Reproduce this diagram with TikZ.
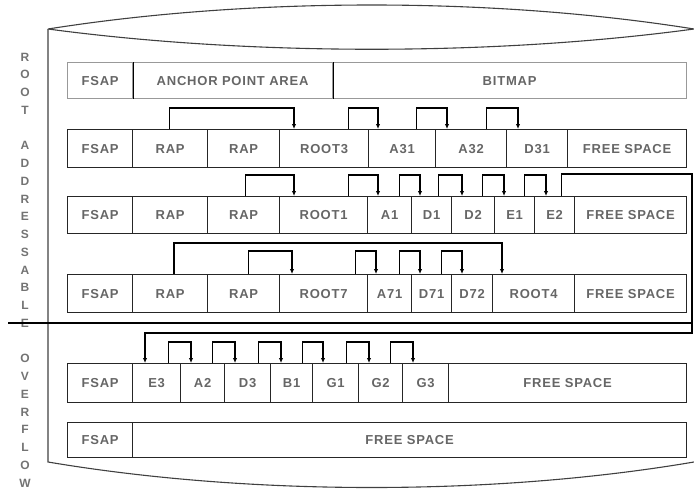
\documentclass[tikz,border=0pt]{standalone}
\usepackage{fontspec}
\setmainfont{Liberation Sans}
\newfontfamily\cellfont[LetterSpace=6]{Liberation Sans}
\usetikzlibrary{arrows.meta}
\tikzset{
  cell/.style={draw=black!85,line width=1.2pt,inner sep=0pt,
    font=\cellfont\fontsize{13}{13}\selectfont\bfseries,text=black!60},
  conn/.style={draw=black,line width=1.4pt,-{Latex[length=5pt,width=4.5pt]}},
  plain/.style={draw=black,line width=1.4pt},
  cyl/.style={draw=black!75,line width=1.1pt},
  side/.style={inner sep=0pt,font=\cellfont\fontsize{12}{12}\selectfont\bfseries,text=black!55}
}
\newcommand\mkcell[6]{\node[cell,anchor=north west,minimum width={#3pt-#2pt},minimum height={#5pt-#4pt}] (#1) at (#2,#4) {#6};}
\begin{document}
\begin{tikzpicture}[x=1pt,y=-1pt]
\useasboundingbox (0,0) rectangle (694,490);
% cylinder outline
\coordinate (cTL) at (48,29);
\coordinate (cTR) at (694,29);
\coordinate (cBL) at (48,462);
\coordinate (cBR) at (694,462);
\draw[cyl] (cTL) .. controls (250,-3) and (494,-3) .. (cTR)
               .. controls (494,56) and (250,56) .. (cTL);
\draw[cyl] (cTL) -- (cBL) .. controls (250,496) and (494,496) .. (cBR);
% side letters
\foreach \i/\c in {0/R,1/O,2/O,3/T,5/A,6/D,7/D,8/R,9/E,10/S,11/S,12/A,13/B,14/L,15/E,
                   17/O,18/V,19/E,20/R,21/F,22/L,23/O,24/W}
  \node[side] (s\i) at (25,57+\i*17.75) {\c};
% separator
\coordinate (sepL) at (8,323);
\coordinate (sepR) at (692,323);
\draw[plain,line width=1.2pt] (sepL) -- (sepR);
% row 1
\begin{scope}[cell/.append style={draw=black!40}]
\mkcell{r1a}{67}{132}{62}{98}{FSAP}
\mkcell{r1b}{132}{332}{62}{98}{ANCHOR POINT AREA}
\mkcell{r1c}{332}{686}{62}{98}{BITMAP}
\end{scope}
\draw[plain,line width=1.2pt] (r1a.north east) -- (r1a.south east);
\draw[plain,line width=1.2pt] (r1b.north east) -- (r1b.south east);
% row 2
\mkcell{r2a}{67}{132}{129}{167}{FSAP}
\mkcell{r2b}{132}{207}{129}{167}{RAP}
\mkcell{r2c}{207}{279}{129}{167}{RAP}
\mkcell{r2d}{279}{368}{129}{167}{ROOT3}
\mkcell{r2e}{368}{435}{129}{167}{A31}
\mkcell{r2f}{435}{506}{129}{167}{A32}
\mkcell{r2g}{506}{567}{129}{167}{D31}
\mkcell{r2h}{567}{686}{129}{167}{FREE SPACE}
% row 3
\mkcell{r3a}{67}{132}{196}{233}{FSAP}
\mkcell{r3b}{132}{207}{196}{233}{RAP}
\mkcell{r3c}{207}{279}{196}{233}{RAP}
\mkcell{r3d}{279}{367}{196}{233}{ROOT1}
\mkcell{r3e}{367}{411}{196}{233}{A1}
\mkcell{r3f}{411}{451}{196}{233}{D1}
\mkcell{r3g}{451}{494}{196}{233}{D2}
\mkcell{r3h}{494}{534}{196}{233}{E1}
\mkcell{r3i}{534}{574}{196}{233}{E2}
\mkcell{r3j}{574}{686}{196}{233}{FREE SPACE}
% row 4
\mkcell{r4a}{67}{132}{274}{312}{FSAP}
\mkcell{r4b}{132}{207}{274}{312}{RAP}
\mkcell{r4c}{207}{279}{274}{312}{RAP}
\mkcell{r4d}{279}{367}{274}{312}{ROOT7}
\mkcell{r4e}{367}{411}{274}{312}{A71}
\mkcell{r4f}{411}{451}{274}{312}{D71}
\mkcell{r4g}{451}{492}{274}{312}{D72}
\mkcell{r4h}{492}{574}{274}{312}{ROOT4}
\mkcell{r4i}{574}{686}{274}{312}{FREE SPACE}
% row 5
\mkcell{r5a}{67}{132}{363}{402}{FSAP}
\mkcell{r5b}{132}{180}{363}{402}{E3}
\mkcell{r5c}{180}{224}{363}{402}{A2}
\mkcell{r5d}{224}{270}{363}{402}{D3}
\mkcell{r5e}{270}{312}{363}{402}{B1}
\mkcell{r5f}{312}{358}{363}{402}{G1}
\mkcell{r5g}{358}{402}{363}{402}{G2}
\mkcell{r5h}{402}{448}{363}{402}{G3}
\mkcell{r5i}{448}{686}{363}{402}{FREE SPACE}
% row 6
\mkcell{r6a}{67}{132}{422}{457}{FSAP}
\mkcell{r6b}{132}{686}{422}{457}{FREE SPACE}
% connectors row 2
\draw[conn] ([xshift=-0.5pt]r2b.north) -- ++(0,-21) -| ([xshift=15pt]r2d.north west);
\draw[conn] ([xshift=-21pt]r2d.north east) -- ++(0,-21) -| ([xshift=10pt]r2e.north west);
\draw[conn] ([xshift=-20pt]r2e.north east) -- ++(0,-21) -| ([xshift=12pt]r2f.north west);
\draw[conn] ([xshift=-21pt]r2f.north east) -- ++(0,-21) -| ([xshift=12pt]r2g.north west);
% connectors row 3
\draw[conn] ([xshift=2pt]r3c.north) -- ++(0,-21) -| ([xshift=15pt]r3d.north west);
\draw[conn] ([xshift=-20pt]r3d.north east) -- ++(0,-21) -| ([xshift=11pt]r3e.north west);
\draw[conn] ([xshift=-13pt]r3e.north east) -- ++(0,-21) -| ([xshift=9pt]r3f.north west);
\draw[conn] ([xshift=-14pt]r3f.north east) -- ++(0,-21) -| ([xshift=11pt]r3g.north west);
\draw[conn] ([xshift=-13pt]r3g.north east) -- ++(0,-21) -| ([xshift=10pt]r3h.north west);
\draw[conn] ([xshift=-11pt]r3h.north east) -- ++(0,-21) -| ([xshift=12pt]r3i.north west);
\coordinate (loopR) at (692,333);
\draw[conn] ([xshift=-14pt]r3i.north east) -- ++(0,-22) -| (loopR) -| ([xshift=13pt]r5b.north west);
% connectors row 4
\draw[conn] ([xshift=4pt]r4b.north) -- ++(0,-31) -| ([xshift=10pt]r4h.north west);
\draw[conn] ([xshift=5pt]r4c.north) -- ++(0,-23) -| ([xshift=13pt]r4d.north west);
\draw[conn] ([xshift=-13pt]r4d.north east) -- ++(0,-23) -| ([xshift=9pt]r4e.north west);
\draw[conn] ([xshift=-13pt]r4e.north east) -- ++(0,-23) -| ([xshift=9pt]r4f.north west);
\draw[conn] ([xshift=-11pt]r4f.north east) -- ++(0,-23) -| ([xshift=11pt]r4g.north west);
% connectors row 5
\draw[conn] ([xshift=-13pt]r5b.north east) -- ++(0,-21) -| ([xshift=11pt]r5c.north west);
\draw[conn] ([xshift=-13pt]r5c.north east) -- ++(0,-21) -| ([xshift=11pt]r5d.north west);
\draw[conn] ([xshift=-13pt]r5d.north east) -- ++(0,-21) -| ([xshift=11pt]r5e.north west);
\draw[conn] ([xshift=-11pt]r5e.north east) -- ++(0,-21) -| ([xshift=11pt]r5f.north west);
\draw[conn] ([xshift=-13pt]r5f.north east) -- ++(0,-21) -| ([xshift=11pt]r5g.north west);
\draw[conn] ([xshift=-13pt]r5g.north east) -- ++(0,-21) -| ([xshift=11pt]r5h.north west);
\end{tikzpicture}
\end{document}
